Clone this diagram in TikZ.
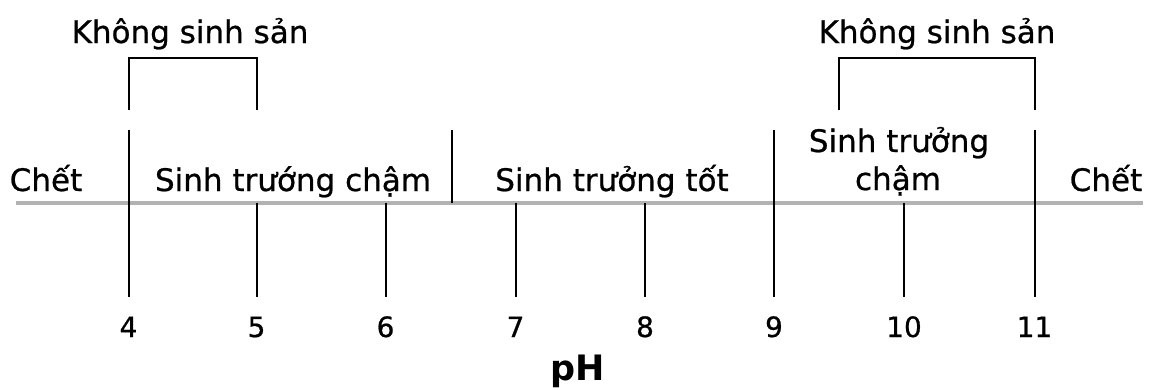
\documentclass[tikz,border=0pt]{standalone}
\usepackage{fontspec}
\setmainfont{DejaVu Sans}
\newfontfamily\thickfont[FakeBold=0.7]{DejaVu Sans}
\begin{document}
\begin{tikzpicture}[x=1pt,y=-1pt,
  lbl/.style={font=\thickfont\fontsize{31}{38}\selectfont, inner sep=0pt, anchor=base, align=center},
  num/.style={font=\thickfont\fontsize{28}{32}\selectfont, inner sep=0pt, anchor=base},
  phlbl/.style={font=\fontsize{35}{40}\selectfont\bfseries, inner sep=0pt, anchor=base},
  tickline/.style={line width=2pt, black},
  axisline/.style={line width=4pt, black!30}]
\useasboundingbox (0,0) rectangle (1152,389);
\fill[white] (0,0) rectangle (1152,389);
% axis
\coordinate (axL) at (16,203);
\coordinate (axR) at (1143,203);
\draw[axisline] (axL) -- (axR);
% ticks and numbers
\foreach \v/\x in {4/128.5,5/256.5,6/385.5,7/515.5,8/645,9/774,10/904,11/1034.5}{
  \coordinate (t\v) at (\x,203);
  \coordinate (b\v) at (\x,297);
  \node[num] (n\v) at (\x,337) {\v};
}
\foreach \v in {5,6,7,8,10}{ \draw[tickline] (t\v) -- (b\v); }
% long ticks through the axis
\coordinate (u4) at (128.5,130);
\coordinate (u9) at (774,130);
\coordinate (u11) at (1034.5,130);
\draw[tickline] (u4) -- (b4);
\draw[tickline] (u9) -- (b9);
\draw[tickline] (u11) -- (b11);
% short tick at 6.5
\coordinate (u65) at (452,130);
\coordinate (d65) at (452,203);
\draw[tickline] (u65) -- (d65);
% brackets
\coordinate (bla) at (128.5,110);
\coordinate (blb) at (256.5,110);
\draw[tickline] (bla) |- (190,58) -| (blb);
\coordinate (bra) at (839,110);
\coordinate (brb) at (1034.5,110);
\draw[tickline] (bra) |- (937,58) -| (brb);
% labels
\node[lbl] (ks1) at (190,43) {Không sinh sản};
\node[lbl] (ks2) at (937,43) {Không sinh sản};
\node[lbl] (c1) at (46,191) {Chết};
\node[lbl] (st1) at (293,191) {Sinh trướng chậm};
\node[lbl] (st2) at (612,191) {Sinh trưởng tốt};
\node[lbl] (st3a) at (899,152) {Sinh trưởng};
\node[lbl] (st3b) at (898,190) {chậm};
\node[lbl] (c2) at (1106,191) {Chết};
\node[phlbl] (ph) at (578,380) {pH};
\end{tikzpicture}
\end{document}
